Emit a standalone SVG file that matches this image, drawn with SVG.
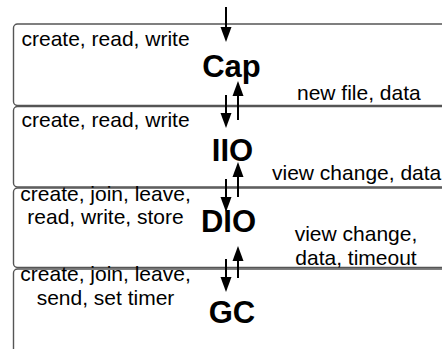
<svg xmlns="http://www.w3.org/2000/svg" width="442" height="349" viewBox="0 0 442 349">
<defs>
<style>
.box{fill:#fff;stroke:#555;stroke-width:1.4}
.t{font-family:"Liberation Sans",Arial,Helvetica,sans-serif;font-size:21px;fill:#000}
.c{text-anchor:middle}
.big{font-family:"Liberation Sans",Arial,Helvetica,sans-serif;font-size:31px;font-weight:bold;text-anchor:middle;fill:#000}
.ln{stroke:#000;stroke-width:2}
.hd{fill:#000}
</style>
</defs>
<rect width="442" height="349" fill="#fff"/>
<g id="cap">
<rect class="box" x="13.5" y="24" width="460" height="81.5" rx="4"/>
<text class="t" x="21.5" y="45.5">create, read, write</text>
<text class="big" x="231.5" y="77">Cap</text>
<text class="t" x="297" y="100">new file, data</text>
</g>
<g id="iio">
<rect class="box" x="13.5" y="106.5" width="460" height="80.5" rx="4"/>
<text class="t" x="21.5" y="127">create, read, write</text>
<text class="big" x="232.5" y="161">IIO</text>
<text class="t" x="272" y="180">view change, data</text>
</g>
<g id="dio">
<rect class="box" x="13.5" y="188" width="460" height="79.5" rx="4"/>
<text class="t c" x="105.5" y="201">create, join, leave,</text>
<text class="t c" x="105.5" y="224">read, write, store</text>
<text class="big" x="228.5" y="232">DIO</text>
<text class="t c" x="356" y="241">view change,</text>
<text class="t c" x="356" y="265">data, timeout</text>
</g>
<g id="gc">
<rect class="box" x="13.5" y="269" width="460" height="120" rx="4"/>
<text class="t c" x="105.5" y="281">create, join, leave,</text>
<text class="t c" x="105.5" y="304.5">send, set timer</text>
<text class="big" x="232" y="323">GC</text>
</g>
<g id="connectors">
<line class="ln" x1="226" y1="7" x2="226" y2="28"/>
<polygon class="hd" points="220.5,27 231.5,27 226,42"/>
<line class="ln" x1="226" y1="95" x2="226" y2="114"/>
<polygon class="hd" points="220.5,113 231.5,113 226,128"/>
<line class="ln" x1="238" y1="120" x2="238" y2="95"/>
<polygon class="hd" points="232.5,96 243.5,96 238,81"/>
<line class="ln" x1="226" y1="179" x2="226" y2="198"/>
<polygon class="hd" points="220.5,197 231.5,197 226,212"/>
<line class="ln" x1="238" y1="197" x2="238" y2="176"/>
<polygon class="hd" points="232.5,177 243.5,177 238,162"/>
<line class="ln" x1="226" y1="259" x2="226" y2="278"/>
<polygon class="hd" points="220.5,277 231.5,277 226,292"/>
<line class="ln" x1="238" y1="278" x2="238" y2="260"/>
<polygon class="hd" points="232.5,261 243.5,261 238,246"/>
</g>
</svg>
